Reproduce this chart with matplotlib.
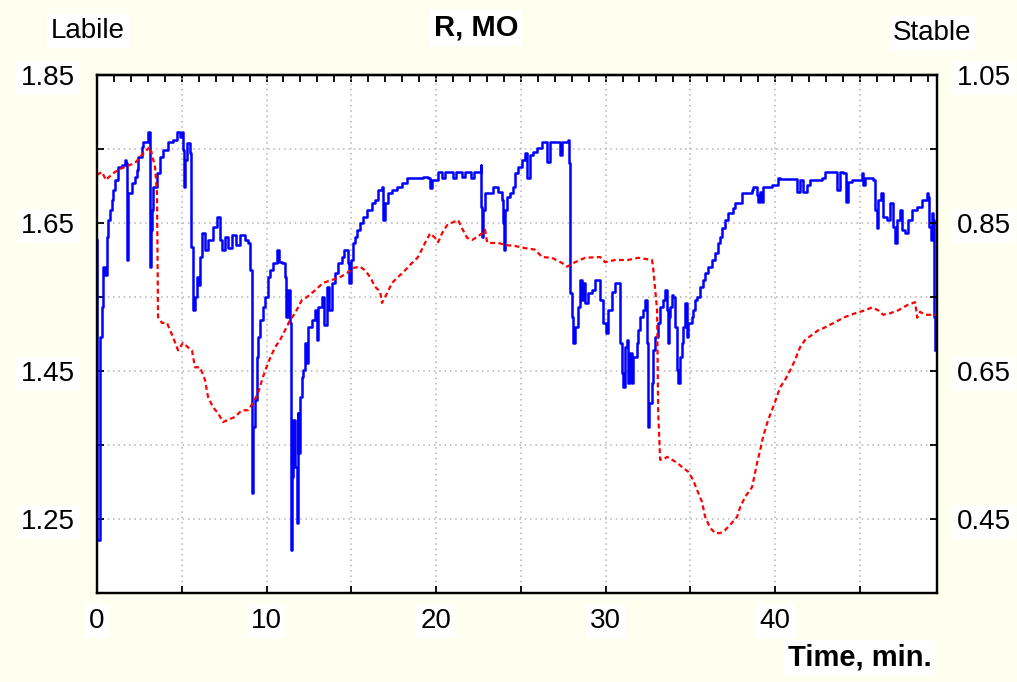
import numpy as np
import matplotlib
matplotlib.use("Agg")
import matplotlib.pyplot as plt

plt.rcParams['font.family'] = ['Liberation Sans', 'DejaVu Sans']

# Labile (left axis, blue)
labile_t = [0, 0.02, 0.18, 0.29, 0.32, 0.35, 0.47, 0.59, 0.65, 0.77, 0.88, 0.94, 1.06, 1.24, 1.47, 1.65,
            1.74, 1.77, 1.83, 2.06, 2.24, 2.36, 2.42, 2.65, 2.71, 2.95, 3.01, 3.10, 3.13, 3.19, 3.24, 3.30,
            3.54, 3.72, 3.89, 4.19, 4.48, 4.72, 4.90, 5.01, 5.10, 5.13, 5.22, 5.31, 5.49, 5.55, 5.66, 5.69,
            5.78, 5.90, 6.02, 6.08, 6.19, 6.37, 6.55, 6.84, 7.08, 7.26, 7.37, 7.55, 7.73, 7.96, 8.20, 8.44,
            8.73, 8.91, 9.03, 9.12, 9.14, 9.20, 9.32, 9.44, 9.50, 9.62, 9.79, 9.91, 10.09, 10.21, 10.38, 10.62,
            10.74, 10.91, 11.09, 11.15, 11.27, 11.39, 11.45, 11.50, 11.56, 11.68, 11.80, 11.83, 11.86, 11.98,
            12.09, 12.15, 12.27, 12.39, 12.45, 12.68, 12.86, 12.98, 13.04, 13.27, 13.39, 13.57, 13.69, 13.86,
            14.04, 14.22, 14.45, 14.57, 14.81, 14.87, 14.99, 15.10, 15.22, 15.34, 15.52, 15.69, 15.93, 16.22,
            16.40, 16.58, 16.81, 16.87, 16.99, 17.17, 17.40, 17.70, 17.99, 18.29, 18.94, 19.23, 19.53, 19.65,
            19.76, 20.12, 20.35, 20.53, 21.00, 21.18, 21.53, 21.71, 22.07, 22.24, 22.60, 22.63, 22.65, 22.71,
            22.77, 22.89, 23.30, 23.36, 23.66, 23.89, 23.95, 24.01, 24.07, 24.19, 24.37, 24.54, 24.66, 24.84,
            25.07, 25.25, 25.37, 25.55, 25.72, 25.96, 26.25, 26.43, 26.55, 26.73, 27.20, 27.32, 27.43, 27.79,
            27.85, 27.91, 28.02, 28.08, 28.20, 28.38, 28.50, 28.61, 28.67, 28.79, 28.97, 29.20, 29.38, 29.56,
            29.68, 29.85, 30.03, 30.15, 30.38, 30.56, 30.74, 30.86, 30.97, 31.03, 31.15, 31.27, 31.33, 31.45,
            31.56, 31.62, 31.86, 31.92, 32.04, 32.21, 32.33, 32.45, 32.51, 32.57, 32.74, 32.80, 32.92, 33.10,
            33.22, 33.39, 33.51, 33.63, 33.69, 33.75, 33.81, 33.92, 33.98, 34.10, 34.22, 34.28, 34.40, 34.51,
            34.57, 34.69, 34.81, 34.87, 35.10, 35.16, 35.28, 35.40, 35.58, 35.75, 35.87, 36.05, 36.28, 36.46,
            36.64, 36.76, 36.87, 37.05, 37.23, 37.52, 37.64, 38.05, 38.64, 38.70, 38.94, 39.00, 39.12, 39.23,
            39.29, 39.82, 40.18, 40.30, 41.06, 41.30, 41.47, 41.65, 41.89, 42.06, 42.77, 42.95, 43.54, 43.66,
            43.83, 44.01, 44.19, 44.31, 44.54, 45.13, 45.19, 45.31, 45.78, 45.90, 46.02, 46.08, 46.25, 46.37,
            46.61, 46.78, 46.96, 47.08, 47.20, 47.37, 47.49, 47.67, 47.85, 48.08, 48.38, 48.67, 48.97, 49.03,
            49.09, 49.20, 49.26, 49.32, 49.38, 49.44]
labile_v = [1.627, 1.222, 1.496, 1.519, 1.536, 1.590, 1.580, 1.631, 1.654, 1.668, 1.681, 1.695, 1.708, 1.726, 1.728, 1.735,
            1.731, 1.600, 1.691, 1.704, 1.712, 1.722, 1.739, 1.753, 1.759, 1.759, 1.773, 1.762, 1.590, 1.641, 1.668, 1.699,
            1.718, 1.739, 1.749, 1.759, 1.762, 1.773, 1.766, 1.773, 1.749, 1.699, 1.735, 1.758, 1.745, 1.618, 1.586, 1.532,
            1.550, 1.577, 1.566, 1.604, 1.636, 1.613, 1.627, 1.645, 1.658, 1.627, 1.613, 1.631, 1.616, 1.634, 1.620, 1.634,
            1.627, 1.623, 1.586, 1.434, 1.285, 1.374, 1.411, 1.469, 1.496, 1.519, 1.536, 1.550, 1.577, 1.586, 1.596, 1.613,
            1.597, 1.596, 1.577, 1.523, 1.559, 1.515, 1.208, 1.307, 1.384, 1.320, 1.245, 1.393, 1.339, 1.415,
            1.442, 1.451, 1.488, 1.461, 1.509, 1.519, 1.532, 1.492, 1.536, 1.550, 1.512, 1.563, 1.532, 1.569,
            1.582, 1.596, 1.604, 1.613, 1.596, 1.569, 1.600, 1.623, 1.631, 1.641, 1.650, 1.658, 1.668, 1.677,
            1.681, 1.695, 1.699, 1.654, 1.677, 1.691, 1.695, 1.699, 1.704, 1.711, 1.711, 1.712, 1.711, 1.697,
            1.708, 1.719, 1.711, 1.719, 1.711, 1.719, 1.712, 1.719, 1.711, 1.719, 1.719, 1.728, 1.672, 1.631,
            1.668, 1.691, 1.691, 1.699, 1.692, 1.681, 1.650, 1.613, 1.668, 1.685, 1.691, 1.699, 1.718, 1.726,
            1.735, 1.745, 1.711, 1.742, 1.746, 1.751, 1.759, 1.759, 1.732, 1.759, 1.759, 1.742, 1.759, 1.762,
            1.731, 1.555, 1.523, 1.488, 1.509, 1.536, 1.573, 1.546, 1.569, 1.542, 1.555, 1.559, 1.573, 1.573,
            1.546, 1.515, 1.501, 1.532, 1.557, 1.569, 1.569, 1.488, 1.447, 1.428, 1.482, 1.492, 1.434, 1.474,
            1.434, 1.469, 1.488, 1.505, 1.523, 1.532, 1.546, 1.488, 1.374, 1.407, 1.434, 1.478, 1.496, 1.515,
            1.536, 1.546, 1.559, 1.532, 1.488, 1.523, 1.536, 1.553, 1.550, 1.509, 1.451, 1.434, 1.469, 1.488,
            1.509, 1.542, 1.496, 1.515, 1.523, 1.532, 1.546, 1.550, 1.563, 1.573, 1.582, 1.590, 1.600, 1.609,
            1.623, 1.631, 1.643, 1.654, 1.664, 1.670, 1.677, 1.691, 1.695, 1.699, 1.688, 1.678, 1.692, 1.678,
            1.699, 1.701, 1.711, 1.709, 1.709, 1.692, 1.708, 1.692, 1.701, 1.708, 1.711, 1.719, 1.719, 1.695,
            1.719, 1.718, 1.678, 1.705, 1.708, 1.718, 1.701, 1.711, 1.708, 1.668, 1.643, 1.681, 1.691, 1.658,
            1.654, 1.677, 1.645, 1.623, 1.654, 1.668, 1.641, 1.636, 1.654, 1.668, 1.672, 1.681, 1.691, 1.685,
            1.645, 1.627, 1.664, 1.654, 1.523, 1.478]

# Stable (right axis, red)
stable_t = [0, 0.29, 0.53, 0.65, 1.06, 1.65, 2.24, 2.65, 3.13, 3.42, 3.54, 3.60, 3.83, 4.13, 4.31, 4.48,
            4.78, 5.07, 5.37, 5.60, 5.78, 6.08, 6.37, 6.55, 6.84, 7.14, 7.43, 7.73, 8.14, 8.55, 8.91, 9.20,
            9.50, 9.79, 10.09, 10.50, 10.80, 11.09, 11.39, 11.68, 12.09, 12.39, 12.86, 13.33, 13.86, 14.34,
            14.75, 15.04, 15.52, 15.81, 16.11, 16.40, 16.70, 16.81, 17.11, 17.40, 17.76, 18.17, 18.58, 18.94,
            19.35, 19.65, 19.94, 20.12, 20.35, 20.65, 21.00, 21.30, 21.53, 21.83, 22.12, 22.42, 22.71, 22.89,
            23.01, 23.19, 23.66, 24.19, 24.66, 25.25, 25.84, 26.25, 26.84, 27.43, 27.73, 28.20, 28.79, 29.68,
            29.97, 30.56, 31.33, 31.92, 32.74, 32.80, 33.04, 33.10, 33.22, 33.39, 33.63, 33.92, 34.22, 34.57,
            34.87, 35.16, 35.40, 35.69, 35.87, 36.17, 36.46, 36.76, 37.05, 37.46, 37.76, 37.94, 38.23, 38.64,
            38.94, 39.12, 39.29, 39.59, 39.88, 40.18, 40.30, 40.59, 40.89, 41.18, 41.47, 41.77, 42.18, 42.54,
            42.95, 43.54, 44.13, 44.72, 45.31, 45.72, 46.08, 46.37, 46.78, 47.26, 47.79, 48.26, 48.38, 48.55,
            48.85, 49.44]
stable_v = [0.915, 0.919, 0.908, 0.911, 0.919, 0.926, 0.931, 0.942, 0.953, 0.926, 0.891, 0.723, 0.715, 0.715, 0.705, 0.696,
            0.678, 0.688, 0.682, 0.678, 0.655, 0.655, 0.638, 0.615, 0.601, 0.593, 0.581, 0.584, 0.588, 0.597, 0.597, 0.607,
            0.620, 0.642, 0.661, 0.682, 0.692, 0.705, 0.719, 0.728, 0.746, 0.750, 0.759, 0.769, 0.773, 0.777,
            0.782, 0.789, 0.791, 0.786, 0.777, 0.764, 0.757, 0.742, 0.755, 0.769, 0.777, 0.786, 0.796, 0.804,
            0.823, 0.836, 0.830, 0.824, 0.836, 0.847, 0.851, 0.854, 0.843, 0.830, 0.827, 0.831, 0.836, 0.841,
            0.824, 0.823, 0.823, 0.820, 0.819, 0.816, 0.814, 0.804, 0.803, 0.796, 0.791, 0.797, 0.803, 0.804,
            0.797, 0.800, 0.800, 0.803, 0.800, 0.791, 0.732, 0.597, 0.530, 0.530, 0.534, 0.530, 0.526, 0.519,
            0.514, 0.503, 0.489, 0.473, 0.453, 0.438, 0.431, 0.431, 0.435, 0.445, 0.453, 0.466, 0.480, 0.493,
            0.526, 0.543, 0.561, 0.584, 0.601, 0.620, 0.628, 0.638, 0.651, 0.665, 0.682, 0.692, 0.699, 0.705,
            0.709, 0.716, 0.723, 0.728, 0.732, 0.736, 0.732, 0.726, 0.728, 0.732, 0.739, 0.743, 0.722, 0.730,
            0.726, 0.726]

x_ticks = [0, 5, 10, 15, 20, 25, 30, 35, 40, 45]
x_labels = ['0', '', '10', '', '20', '', '30', '', '40', '']
left_ticks = [1.25, 1.35, 1.45, 1.55, 1.65, 1.75, 1.85]
left_labels = ['1.25', '', '1.45', '', '1.65', '', '1.85']
right_ticks = [0.45, 0.55, 0.65, 0.75, 0.85, 0.95, 1.05]
right_labels = ['0.45', '', '0.65', '', '0.85', '', '1.05']

W, H = 1017, 682
fig = plt.figure(figsize=(W / 100, H / 100), dpi=100, facecolor='#fffff0')
ax = fig.add_axes([97 / W, 89 / H, 840 / W, 518 / H])
ax.set_facecolor('white')
box = dict(facecolor='white', edgecolor='none', pad=3)
fs = 20

ax.step(labile_t, labile_v, where='post', color='#0000ff', lw=1.8, zorder=3)
ax.set_xlim(0, 49.55)
ax.set_ylim(1.15, 1.85)
ax.set_xticks(x_ticks)
ax.set_xticklabels(x_labels)
ax.set_yticks(left_ticks)
ax.set_yticklabels(left_labels)
ax.grid(True, color='#b4b4b4', linestyle=(0, (1, 2.5)), lw=1.1)
ax.tick_params(axis='x', direction='in', length=5, width=1.3, pad=11, labelsize=fs)
ax.tick_params(axis='y', direction='in', length=5, width=1.3, pad=16, labelsize=fs, right=False)

ax2 = ax.twinx()
ax2.plot(stable_t, stable_v, color='#ff0000', lw=1.6, dashes=(2.2, 1.5), zorder=2)
ax2.set_ylim(0.35, 1.05)
ax2.set_yticks(right_ticks)
ax2.set_yticklabels(right_labels)
ax2.tick_params(axis='y', direction='in', length=5, width=1.3, pad=14, labelsize=fs)

top = ax.secondary_xaxis('top')
top.set_xticks(np.arange(0, 50, 1))
top.tick_params(direction='in', length=5, width=1.3, labeltop=False)

for a in (ax, ax2):
    for s in a.spines.values():
        s.set_linewidth(1.6)
        s.set_color('black')
top.spines['top'].set_linewidth(1.6)

for lbl in ax.get_xticklabels() + ax.get_yticklabels() + ax2.get_yticklabels():
    lbl.set_bbox(box)

fig.text(88 / W, 1 - 31 / H, 'Labile', fontsize=fs, ha='center', va='center', bbox=box)
fig.text(932 / W, 1 - 33 / H, 'Stable', fontsize=fs, ha='center', va='center', bbox=box)
fig.text(476 / W, 1 - 28 / H, 'R, MO', fontsize=21, fontweight='bold', ha='center', va='center', bbox=box)
fig.text(932 / W, 1 - 658 / H, 'Time, min.', fontsize=21, fontweight='bold', ha='right', va='center', bbox=box)

fig.savefig('out.png', dpi=100, facecolor=fig.get_facecolor())
